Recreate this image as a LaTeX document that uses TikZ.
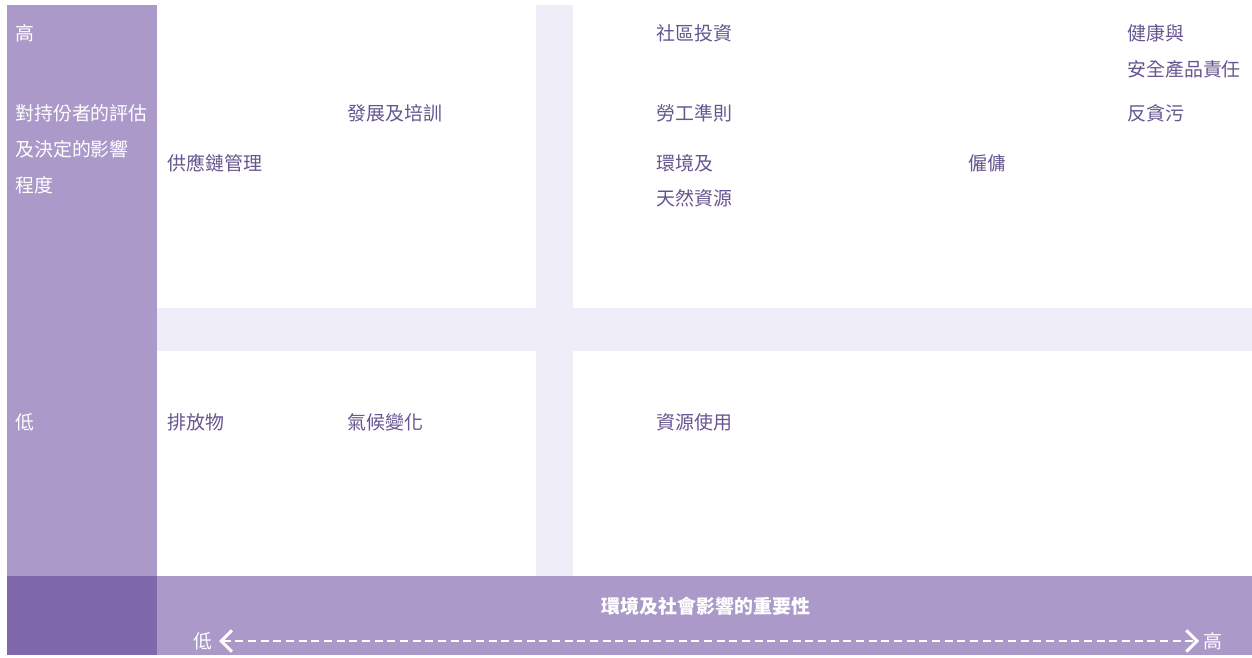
\documentclass[tikz,border=0pt]{standalone}
\usepackage{fontspec}
\setmainfont{Noto Sans CJK TC}
\usetikzlibrary{arrows.meta}
\definecolor{colside}{HTML}{AA99C9}
\definecolor{colcorner}{HTML}{7F69AC}
\definecolor{colband}{HTML}{EFEDF7}
\definecolor{coltext}{HTML}{665690}
\tikzset{
  lbl/.style={anchor=west, inner sep=0pt, text=coltext, font=\fontsize{14.2}{17}\selectfont},
  side/.style={anchor=west, inner sep=0pt, text=white, font=\fontsize{14.2}{17}\selectfont},
  axis/.style={anchor=center, inner sep=0pt, text=white, font=\fontsize{14.2}{17}\selectfont\bfseries},
  tipbarb/.style={Straight Barb[length=8pt,width=16pt,line width=2.2pt]},
}
\begin{document}
\begin{tikzpicture}[x=0.75pt,y=-0.75pt]
\path[use as bounding box] (0,0) rectangle (1252,657);
\fill[white] (0,0) rectangle (1252,657);
% cross bands
\fill[colband] (536,5) rectangle (573,576);
\fill[colband] (157,308) rectangle (1252,351);
% left column and bottom bar
\fill[colside] (7,5) rectangle (157,576);
\fill[colcorner] (7,576) rectangle (157,655);
\fill[colside] (157,576) rectangle (1252,655);
% left column texts
\node[side] (hiy) at (15,33) {高};
\node[side] (ya1) at (15,113) {對持份者的評估};
\node[side] (ya2) at (15,149) {及決定的影響};
\node[side] (ya3) at (15,185) {程度};
\node[side] (loy) at (15,422) {低};
% labels
\node[lbl] (l1) at (347,113) {發展及培訓};
\node[lbl] (l2) at (167,163) {供應鏈管理};
\node[lbl] (l3) at (656,33) {社區投資};
\node[lbl] (l4) at (656,113) {勞工準則};
\node[lbl] (l5a) at (656,163) {環境及};
\node[lbl] (l5b) at (656,198) {天然資源};
\node[lbl] (l6) at (968,163) {僱傭};
\node[lbl] (l7a) at (1127,33) {健康與};
\node[lbl] (l7b) at (1127,69) {安全產品責任};
\node[lbl] (l8) at (1127,113) {反貪污};
\node[lbl] (l9) at (167,422) {排放物};
\node[lbl] (l10) at (347,422) {氣候變化};
\node[lbl] (l11) at (656,422) {資源使用};
% bottom axis
\node[axis] (xt) at (706,606) {環境及社會影響的重要性};
\node[side] (lox) at (193,641) {低};
\node[side] (hix) at (1203,641) {高};
\draw[white, line width=1.8pt, dash pattern=on 6pt off 3.5pt,
  {Straight Barb[length=8pt,width=16pt,line width=2.2pt]}-{Straight Barb[length=8pt,width=16pt,line width=2.2pt]},
  shorten <=5pt, shorten >=3pt] (lox.east) -- (hix.west);
\end{tikzpicture}
\end{document}
